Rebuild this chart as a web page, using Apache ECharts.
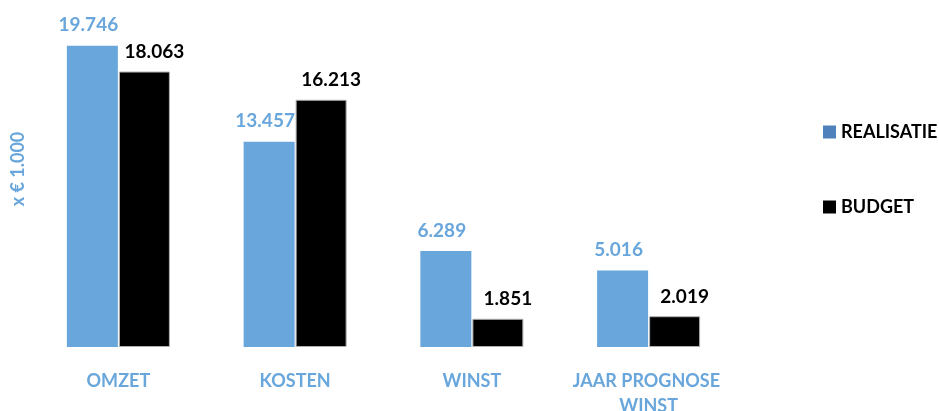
<!DOCTYPE html>
<html>
<head>
<meta charset="utf-8">
<script src="https://cdn.jsdelivr.net/npm/echarts@6/dist/echarts.min.js"></script>
<style>
  html, body { margin: 0; padding: 0; background: #fff; }
  #chart { width: 939px; height: 411px; }
</style>
</head>
<body>
<div id="chart"></div>
<script>
// chart values (x € 1.000)
const categories = ['OMZET', 'KOSTEN', 'WINST', 'JAAR PROGNOSE WINST'];
const realisatie = [19746, 13457, 6289, 5016];
const budget = [18063, 16213, 1851, 2019];

const blue = '#68A6DB';
const font = 'Lato, "Open Sans", sans-serif';

// Dutch thousands separator
function fmt(v) {
    return String(v).replace(/\B(?=(\d{3})+(?!\d))/g, '.');
}

const chart = echarts.init(document.getElementById('chart'));

chart.setOption({
    animation: false,
    textStyle: { fontFamily: font },
    grid: { left: 30, right: 202, top: 42, bottom: 64, outerBoundsMode: 'none', containLabel: false },
    legend: {
        orient: 'vertical',
        left: 818,
        top: 118,
        itemWidth: 13,
        itemHeight: 13,
        itemGap: 57,
        icon: 'rect',
        textStyle: { fontSize: 18, fontWeight: 'bold', color: '#000', fontFamily: font },
        data: [
            { name: 'REALISATIE', itemStyle: { color: '#4F81BD', borderWidth: 0 } },
            { name: 'BUDGET', itemStyle: { color: '#000', borderWidth: 0 } }
        ]
    },
    graphic: [{
        type: 'text',
        x: 18,
        y: 169,
        rotation: Math.PI / 2,
        style: {
            text: 'x € 1.000',
            fill: blue,
            font: 'bold 18px ' + font,
            align: 'center',
            verticalAlign: 'middle'
        }
    }],
    xAxis: {
        type: 'category',
        data: categories,
        axisLine: { show: false },
        axisTick: { show: false },
        axisLabel: {
            color: blue,
            fontSize: 18,
            fontWeight: 'bold',
            margin: 22,
            lineHeight: 25,
            width: 165,
            overflow: 'break',
            interval: 0
        }
    },
    yAxis: {
        type: 'value',
        min: 0,
        max: 20000,
        show: false
    },
    series: [
        {
            name: 'REALISATIE',
            type: 'bar',
            data: realisatie,
            barWidth: 51,
            barGap: '2%',
            itemStyle: { color: blue },
            label: {
                show: true,
                position: 'top',
                distance: 11,
                offset: [-4, 0],
                color: blue,
                fontSize: 19,
                fontWeight: 'bold',
                formatter: p => fmt(p.value)
            }
        },
        {
            name: 'BUDGET',
            type: 'bar',
            data: budget,
            barWidth: 51,
            itemStyle: { color: '#000', borderColor: '#b0b0b0', borderWidth: 1 },
            label: {
                show: true,
                position: 'top',
                distance: 10,
                offset: [10, 0],
                color: '#000',
                fontSize: 19,
                fontWeight: 'bold',
                formatter: p => fmt(p.value)
            }
        }
    ]
});
</script>
</body>
</html>
